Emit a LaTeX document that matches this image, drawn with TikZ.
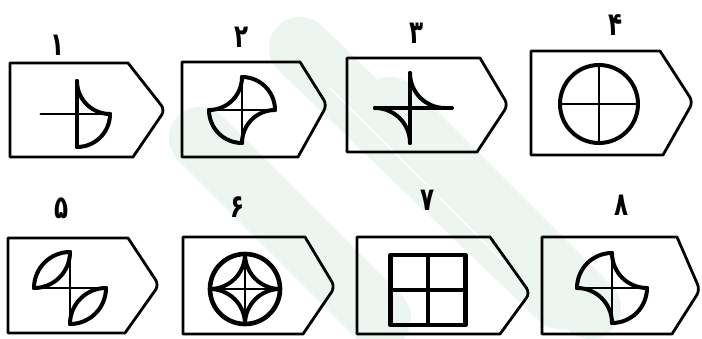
\documentclass[tikz,border=0pt]{standalone}
\usepackage{fontspec}
\newfontfamily\fadigits{DejaVu Sans}
\definecolor{wm}{RGB}{236,245,239}
\newcommand\tall[1]{\scalebox{1}[1.4]{#1}}
\tikzset{
  boxline/.style={line width=2.8pt, line join=round},
  figline/.style={line width=4pt, line cap=round, line join=round},
  thinfig/.style={line width=2.8pt, line cap=round},
  lbl/.style={font=\fadigits\bfseries\fontsize{23}{23}\selectfont, inner sep=0pt},
  wmband/.style={wm, line width=62pt, line cap=round},
  wmgap/.style={white, line width=2pt, line cap=round}
}
\newcommand\tagbox[7]{%
  \draw[boxline] (#1,#2) -- (#4,#2) [rounded corners=6pt] -- (#5,#6) [sharp corners] -- (#7,#3) -- (#1,#3) -- cycle;}
\begin{document}
\begin{tikzpicture}[x=1pt,y=1pt]
\useasboundingbox (0,0) rectangle (702,338);
\fill[white] (0,0) rectangle (702,338);
% watermark bands
\draw[wmband] (300,290) -- (560,40);
\draw[wmband] (200,200) -- (380,20);
\draw[wmband] (390,230) -- (590,30);
\draw[wmgap] (270,270) -- (470,70);
\draw[wmgap] (330,250) -- (520,60);
\draw[wmgap] (180,160) -- (330,10);
% boxes
\tagbox{10}{275}{181}{128}{165}{228}{133}
\tagbox{182}{276}{181}{300}{327}{233}{298}
\tagbox{347}{280}{186}{480}{508}{233}{477}
\tagbox{531}{287}{183}{660}{693}{236}{663}
\tagbox{8}{100}{5}{128}{159}{53}{125}
\tagbox{183}{101}{4}{305}{335}{51}{303}
\tagbox{357}{101}{4}{490}{530}{45}{500}
\tagbox{542}{101}{4}{677}{700}{48}{672}
% labels
\node[lbl] (l1) at (58,293) {\tall{۱}};
\node[lbl] (l2) at (242,301) {\tall{۲}};
\node[lbl] (l3) at (417,305) {\tall{۳}};
\node[lbl] (l4) at (616,313) {\tall{۴}};
\node[lbl] (l5) at (62,130) {\tall{۵}};
\node[lbl] (l6) at (238,131) {\tall{۶}};
\node[lbl] (l7) at (428,138) {\tall{۷}};
\node[lbl] (l8) at (622,133) {\tall{۸}};
% figure 1
\begin{scope}[shift={(77,224)},scale=33]
\draw[thinfig] (-1.1,0) -- (1,0);
\draw[figline] (0,-1) -- (0,1);
\draw[figline] (0,1) arc[start angle=180,end angle=270,radius=1];
\draw[figline] (1,0) arc[start angle=0,end angle=-90,radius=1];
\end{scope}
% figure 2
\begin{scope}[shift={(242,228)},scale=33]
\draw[thinfig] (-1,0) -- (1,0) (0,-1) -- (0,1);
\draw[figline] (0,1) arc[start angle=90,end angle=0,radius=1];
\draw[figline] (0,-1) arc[start angle=270,end angle=180,radius=1];
\draw[figline] (-1,0) arc[start angle=270,end angle=360,radius=1];
\draw[figline] (1,0) arc[start angle=90,end angle=180,radius=1];
\end{scope}
% figure 3
\begin{scope}[shift={(410,230)},scale=35]
\draw[figline] (-1,0) -- (1.2,0) (0,-1) -- (0,1);
\draw[figline] (0,1) arc[start angle=180,end angle=270,radius=1];
\draw[figline] (0,-1) arc[start angle=0,end angle=90,radius=1];
\end{scope}
% figure 4
\begin{scope}[shift={(599,234)},scale=39]
\draw[figline] (0,0) circle[radius=1];
\draw[thinfig] (-1,0) -- (1,0) (0,-1) -- (0,1);
\end{scope}
% figure 5
\begin{scope}[shift={(70,50)},scale=36]
\draw[thinfig] (-1,0) -- (1,0) (0,-1) -- (0,1);
\draw[figline] (-1,0) arc[start angle=180,end angle=90,radius=1];
\draw[figline] (-1,0) arc[start angle=270,end angle=360,radius=1];
\draw[figline] (1,0) arc[start angle=0,end angle=-90,radius=1];
\draw[figline] (1,0) arc[start angle=90,end angle=180,radius=1];
\end{scope}
% figure 6
\begin{scope}[shift={(245,49)},scale=35]
\draw[figline,line width=4.6pt] (0,0) circle[radius=1];
\draw[thinfig] (-1,0) -- (1,0) (0,-1) -- (0,1);
\draw[figline] (0,1) arc[start angle=180,end angle=270,radius=1];
\draw[figline] (-1,0) arc[start angle=270,end angle=360,radius=1];
\draw[figline] (0,-1) arc[start angle=0,end angle=90,radius=1];
\draw[figline] (1,0) arc[start angle=90,end angle=180,radius=1];
\end{scope}
% figure 7
\begin{scope}[shift={(428,48)}]
\draw[figline,line width=4.6pt,line cap=butt] (-37.5,-35) rectangle (37.5,35);
\draw[figline,line width=3.6pt,line cap=butt] (-37.5,0) -- (37.5,0) (0,-35) -- (0,35);
\end{scope}
% figure 8
\begin{scope}[shift={(612,50)},scale=35]
\draw[thinfig] (-1,0) -- (1,0) (0,-1) -- (0,1);
\draw[figline] (-1,0) arc[start angle=180,end angle=90,radius=1];
\draw[figline] (1,0) arc[start angle=0,end angle=-90,radius=1];
\draw[figline] (0,1) arc[start angle=180,end angle=270,radius=1];
\draw[figline] (0,-1) arc[start angle=0,end angle=90,radius=1];
\end{scope}
\end{tikzpicture}
\end{document}
